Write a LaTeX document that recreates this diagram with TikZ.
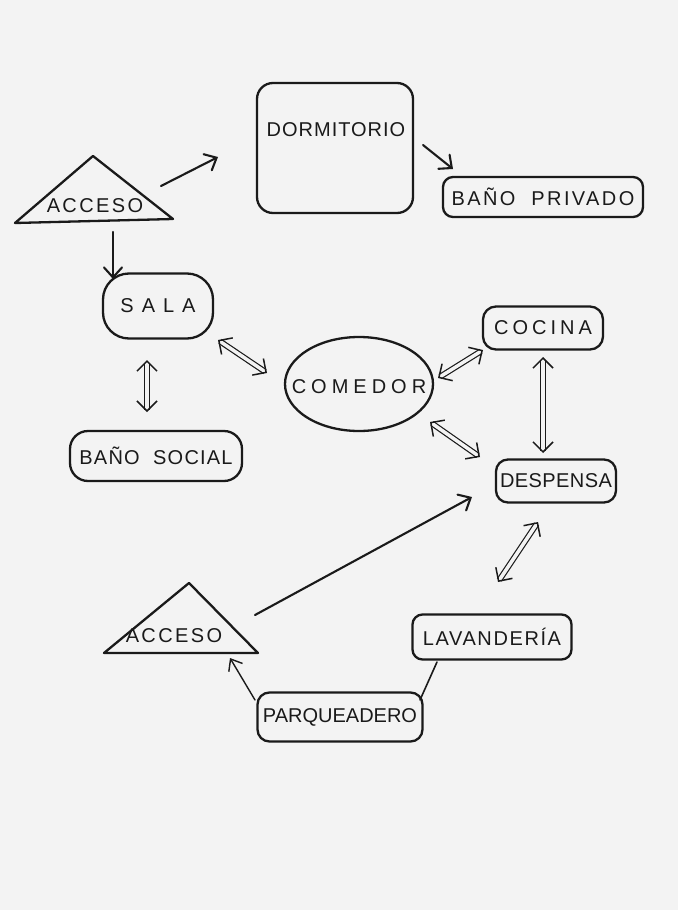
\documentclass[tikz,border=0pt]{standalone}
\usepackage{fontspec}
\setmainfont{Liberation Sans}
\usetikzlibrary{arrows.meta,shapes.geometric}
\definecolor{ink}{HTML}{1A1A1A}
\definecolor{paper}{HTML}{F3F3F3}
\newcommand\hand[1]{\fontsize{20}{20}\selectfont\addfontfeatures{LetterSpace=#1}}
\tikzset{
  inkline/.style={draw=ink, line width=2.3pt, line join=round, line cap=round},
  room/.style={inkline, rounded corners=10pt, inner sep=0pt, text=ink},
  lbl/.style={text=ink, inner sep=0pt},
  arr/.style={draw=ink, line width=2.1pt, line cap=round, -{Straight Barb[length=10pt,width=18pt,line cap=round]}},
  thinarr/.style={draw=ink, line width=1.4pt, line cap=round, -{Straight Barb[length=10pt,width=16pt]}},
  dblshaft/.style={draw=ink, line width=1.2pt, double=paper, double distance=3.5pt, shorten >=2.5pt, shorten <=2.5pt},
  dbltips/.style={draw=paper, line width=1.2pt, {Straight Barb[color=ink,length=10pt,width=20pt,line width=1.5pt]}-{Straight Barb[color=ink,length=10pt,width=20pt,line width=1.5pt]}},
}
\begin{document}
\begin{tikzpicture}[x=1pt,y=-1pt]
\fill[paper] (0,0) rectangle (678,910);
\useasboundingbox (0,0) rectangle (678,910);

% top access
\draw[inkline] (15,223) -- (93,156) -- (173,219) -- cycle;
\node[lbl, font=\hand{12}] (acc1) at (95,206) {ACCESO};

% dormitorio
\node[room, rounded corners=16pt, minimum width=156pt, minimum height=130pt] (dorm) at (335,148) {};
\node[lbl, font=\hand{5}] (dormtxt) at (336,130) {DORMITORIO};

% baño privado
\node[room, minimum width=200pt, minimum height=40pt, font=\hand{12}] (bpriv) at (543,197) {BAÑO\ \ PRIVADO};

% sala
\node[room, rounded corners=26pt, minimum width=110pt, minimum height=65pt, font=\hand{40}] (sala) at (158,306) {SALA};

% baño social
\node[room, rounded corners=18pt, minimum width=172pt, minimum height=50pt, font=\hand{6}] (bsoc) at (156,456) {BAÑO\ \ SOCIAL};

% comedor
\node[inkline, ellipse, minimum width=148pt, minimum height=94pt, inner sep=0pt] (com) at (359,384) {};
\node[lbl, font=\hand{25}] (comtxt) at (359,387) {COMEDOR};

% cocina
\node[room, rounded corners=13pt, minimum width=120pt, minimum height=43pt, font=\hand{20}] (coc) at (543,328) {COCINA};

% despensa
\node[room, rounded corners=12pt, minimum width=120pt, minimum height=43pt, font=\hand{2}] (desp) at (556,481) {DESPENSA};

% bottom access
\draw[inkline] (104,653) -- (189,583) -- (258,653) -- cycle;
\node[lbl, font=\hand{12}] (acc2) at (174,636) {ACCESO};

% lavanderia
\node[room, minimum width=159pt, minimum height=45pt, font=\hand{8}] (lav) at (492,637) {LAVANDERÍA};

% parqueadero
\node[room, rounded corners=12pt, minimum width=165pt, minimum height=49pt, font=\hand{0}] (parq) at (340,717) {PARQUEADERO};

% connector end points
\coordinate (a1) at (161,186); \coordinate (a2) at (218,157);
\coordinate (b1) at (423,145); \coordinate (b2) at (453,169);
\coordinate (c1) at (113,232); \coordinate (c2) at (113,279);
\coordinate (d1) at (218,340); \coordinate (d2) at (267,373);
\coordinate (e1) at (147,360); \coordinate (e2) at (147,412);
\coordinate (f1) at (438,378); \coordinate (f2) at (483,350);
\coordinate (g1) at (543,357); \coordinate (g2) at (543,453);
\coordinate (h1) at (430,422); \coordinate (h2) at (480,457);
\coordinate (i1) at (255,615); \coordinate (i2) at (472,497);
\coordinate (j1) at (538,522); \coordinate (j2) at (498,582);
\coordinate (k1) at (255,700); \coordinate (k2) at (230,658);
\coordinate (l1) at (420,700); \coordinate (l2) at (437,662);

\draw[arr] (a1) -- (a2);
\draw[arr] (b1) -- (b2);
\draw[arr] (c1) -- (c2);
\foreach \p in {d,e,f,g,h,j}{
  \draw[dblshaft] (\p1) -- (\p2);
  \draw[dbltips] (\p1) -- (\p2);
}
\draw[arr] (i1) -- (i2);
\draw[thinarr] (k1) -- (k2);
\draw[inkline, line width=1.6pt] (l1) -- (l2);
\end{tikzpicture}
\end{document}
